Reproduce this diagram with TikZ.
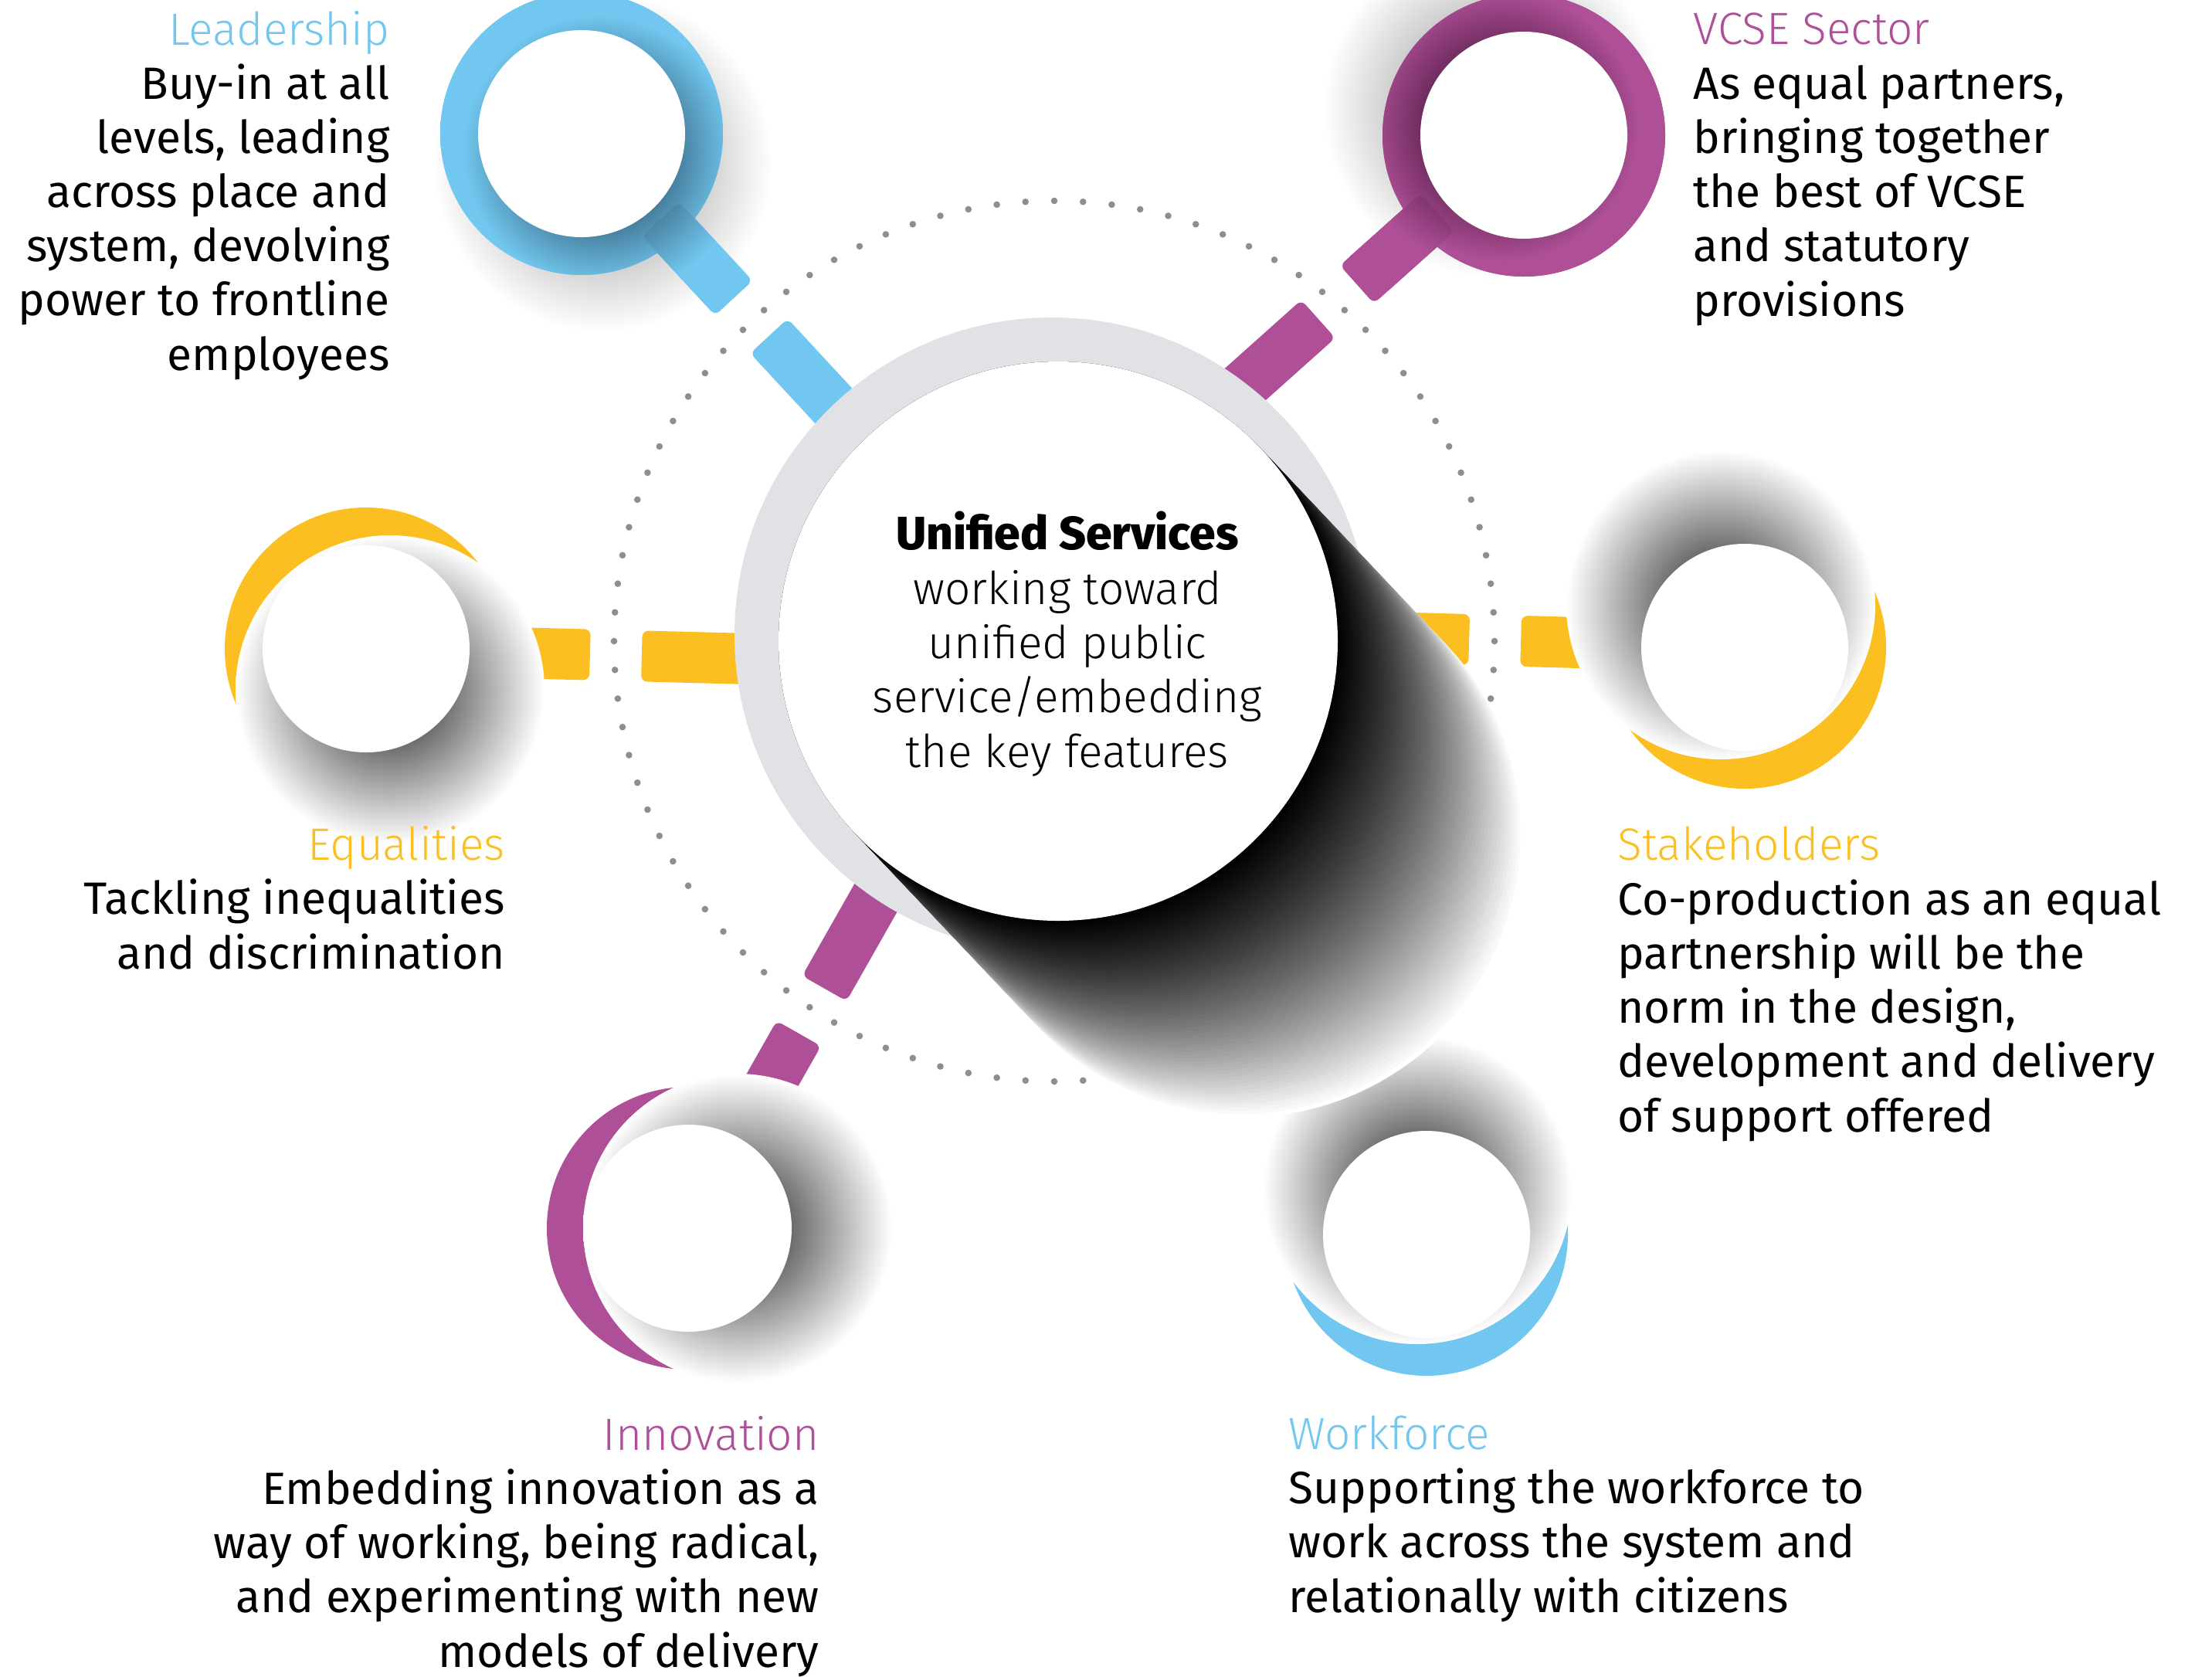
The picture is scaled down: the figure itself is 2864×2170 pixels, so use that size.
\documentclass[tikz,border=0pt]{standalone}
\usepackage{fontspec}
\setmainfont{Fira Sans}
\newfontfamily\lightfont{Fira Sans Light}
\newfontfamily\heavyfont{Fira Sans ExtraBold}
\usetikzlibrary{calc}

\definecolor{sky}{HTML}{71C7EF}
\definecolor{skydark}{HTML}{467C9B}
\definecolor{plum}{HTML}{AE4F97}
\definecolor{plumdark}{HTML}{6B2A5B}
\definecolor{amber}{HTML}{FBBF21}
\definecolor{ringgrey}{HTML}{E1E2E6}
\definecolor{dotgrey}{HTML}{8E8E8E}

% soft shadows and ring tints
\pgfdeclareradialshading{discshadow}{\pgfpointorigin}{color(0bp)=(black!58); color(8.75bp)=(black!58); color(25bp)=(white); color(50bp)=(white)}
\pgfdeclareradialshading{ringshadow}{\pgfpointorigin}{color(0bp)=(black!24); color(15bp)=(black!19); color(25bp)=(white); color(50bp)=(white)}
\pgfdeclareradialshading{skyshade}{\pgfpointorigin}{color(0bp)=(skydark); color(9.6bp)=(skydark); color(16.8bp)=(sky); color(50bp)=(sky)}
\pgfdeclareradialshading{plumshade}{\pgfpointorigin}{color(0bp)=(plumdark); color(9.6bp)=(plumdark); color(16.8bp)=(plum); color(50bp)=(plum)}

\begin{document}
\begin{tikzpicture}[
  x=0.5pt, y=-0.5pt,
  headline/.style={font=\lightfont\fontsize{29.3}{35.1}\selectfont, inner sep=0pt},
  blurb/.style={font=\fontsize{29.3}{35.1}\selectfont, inner sep=0pt},
  bar/.style={rounded corners=4pt}
]
  \useasboundingbox (0,0) rectangle (2864,2170);

  \coordinate (hub) at (1370,830);
  \coordinate (lead) at (753,173);
  \coordinate (vcse) at (1973,175);
  \coordinate (equal) at (474,840);
  \coordinate (stake) at (2259,838);
  \coordinate (innov) at (891,1590);
  \coordinate (work) at (1847,1598);

  % dotted orbit
  \foreach \k in {0,...,95}
    \fill[dotgrey] (1365,830) ++(\k*3.75:570) circle (4.3);

  % inner pieces of the bars, they run in under the hub
  \foreach \sat/\ang/\col in {lead/47.2/sky, vcse/138.2/plum, equal/1.5/amber,
                              stake/181.6/amber, innov/299.6/plum}{
    \begin{scope}[shift={(\sat)}, rotate=-\ang]
      \fill[\col, bar] (357,-33) rectangle (560,33);
    \end{scope}
  }
  \foreach \sat/\ang/\col in {equal/1.5/amber, stake/181.6/amber, innov/299.6/plum}{
    \begin{scope}[shift={(\sat)}, rotate=-\ang]
      \fill[\col, bar] (150,-33) rectangle (290,33);
    \end{scope}
  }

  % rings with a handle
  \foreach \sat/\ang/\col/\dx/\dy/\lx/\ly in {lead/47.2/sky/27/37/22/22,
                                               vcse/138.2/plum/-40/-35/-28/-12}{
    \coordinate (glow) at ($(\sat)+(\dx,\dy)$);
    \coordinate (tint) at ($(\sat)+(\lx,\ly)$);
    \shade[shading=ringshadow] (glow) circle (220);
    \fill[\col] (\sat) circle (183);
    \begin{scope}
      \clip (\sat) circle (183);
      \shade[shading=\col shade] (tint) circle (260);
    \end{scope}
    \begin{scope}[shift={(\sat)}, rotate=-\ang]
      \fill[\col, bar] (150,-33) rectangle (290,33);
      \clip[bar] (150,-33) rectangle (290,33);
      \shade[shading=\col shade] (tint) circle (260);
    \end{scope}
    \fill[white] (\sat) circle (134);
  }

  % crescents half hidden by their own shadow
  \foreach \sat/\col/\dx/\dy in {equal/amber/31/53, stake/amber/-31/-55,
                                 innov/plum/64/0, work/sky/-12/-58}{
    \fill[\col] (\sat) circle (183);
    \shade[shading=discshadow] ($(\sat)+(\dx,\dy)$) circle (200);
    \fill[white] (\sat) circle (134);
  }

  % hub with its long shadow
  \fill[ringgrey] (1362,822) circle (411);
  \foreach \i in {60,59,...,0}{
    \pgfmathsetmacro\t{\i/60}
    \pgfmathsetmacro\shd{100*(1-(0.7*\t+0.3*\t*\t))}
    \fill[black!\shd] (hub) ++(46.6:\t*350) circle (362);
  }
  \fill[white] (hub) circle (362);

  % multi-line texts hang from the baseline of their last line
  \node[blurb, font=\heavyfont\fontsize{30.2}{35.1}\selectfont, anchor=base] (hubhead) at (1382,711) {Unified Services};
  \node[headline, align=center, anchor=base] (hubtext) at (1382,993)
    {working toward\\unified public\\service/embedding\\the key features};

  % labels
  \node[headline, text=sky, anchor=base east] (leadhead) at (505,58) {Leadership};
  \node[blurb, align=right, anchor=base east] (leadtext) at (505,479)
    {Buy-in at all\\levels, leading\\across place and\\system, devolving\\power to frontline\\employees};

  \node[headline, text=plum, anchor=base west] (vcsehead) at (2192,57) {VCSE Sector};
  \node[blurb, align=left, anchor=base west] (vcsetext) at (2192,409)
    {As equal partners,\\bringing together\\the best of VCSE\\and statutory\\provisions};

  \node[headline, text=amber, anchor=base east] (equalhead) at (654,1113) {Equalities};
  \node[blurb, align=right, anchor=base east] (equaltext) at (654,1254)
    {Tackling inequalities\\and discrimination};

  \node[headline, text=amber, anchor=base west] (stakehead) at (2094,1113) {Stakeholders};
  \node[blurb, align=left, anchor=base west] (staketext) at (2094,1465)
    {Co-production as an equal\\partnership will be the\\norm in the design,\\development and delivery\\of support offered};

  \node[headline, text=plum, anchor=base east] (innovhead) at (1061,1877) {Innovation};
  \node[blurb, align=right, anchor=base east] (innovtext) at (1061,2158)
    {Embedding innovation as a\\way of working, being radical,\\and experimenting with new\\models of delivery};

  \node[headline, text=sky, anchor=base west] (workhead) at (1668,1876) {Workforce};
  \node[blurb, align=left, anchor=base west] (worktext) at (1668,2087)
    {Supporting the workforce to\\work across the system and\\relationally with citizens};
\end{tikzpicture}
\end{document}
